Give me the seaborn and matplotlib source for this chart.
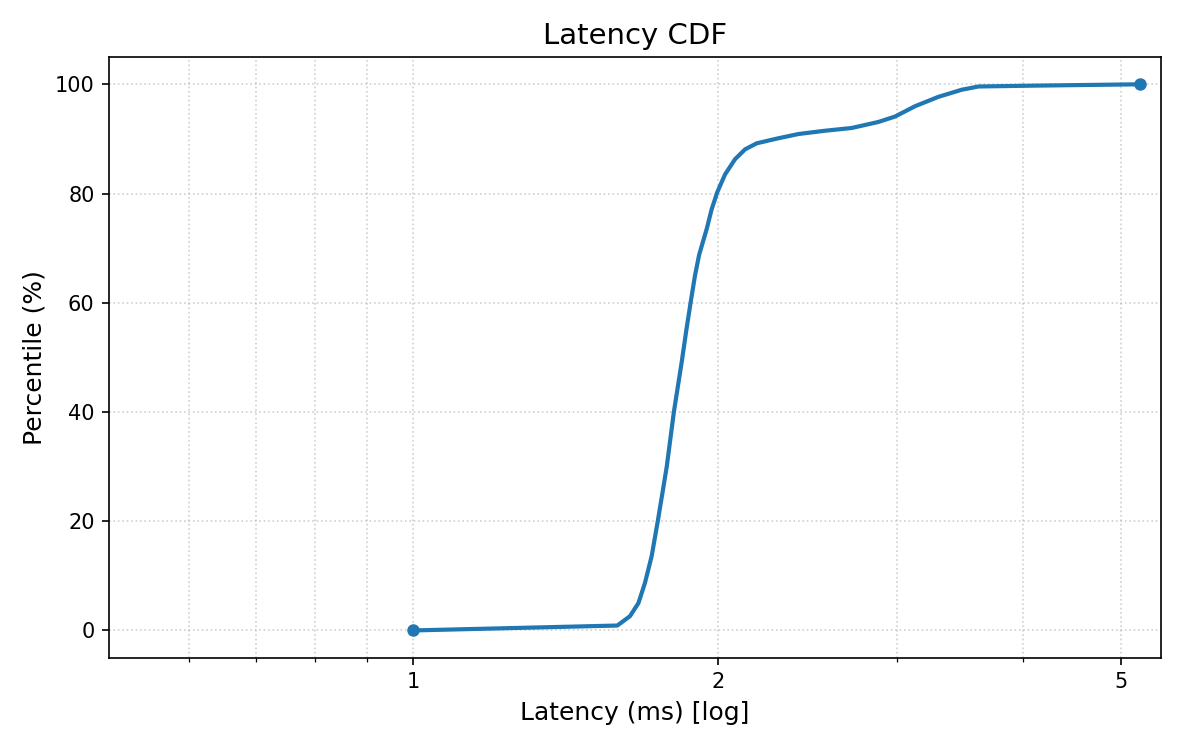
import pandas as pd
import matplotlib.pyplot as plt
import seaborn as sns
from matplotlib.ticker import NullFormatter

# Latenz-Perzentile
latency_ms = [1.0, 1.59, 1.636, 1.668, 1.693, 1.719, 1.743, 1.761, 1.779, 1.808,
              1.84, 1.86, 1.878, 1.897, 1.915, 1.948, 1.970, 1.996, 2.031, 2.078,
              2.126, 2.183, 2.29, 2.40, 2.55, 2.708, 2.877, 2.989, 3.129, 3.298,
              3.477, 3.613, 4.08, 5.21]
percentile = [0, 0.9, 2.6, 5.0, 8.7, 13.6, 20.0, 25.0, 30.0, 40.0,
              49.0, 55.0, 60.0, 65.0, 68.8, 73.5, 77.1, 80.3, 83.5, 86.3,
              88.1, 89.2, 90.1, 90.9, 91.5, 92.0, 93.1, 94.1, 96.0, 97.7,
              99.0, 99.6, 99.75, 100.0]
x_ticks = [1, 2, 5]
x_tick_labels = ["1", "2", "5"]

df = pd.DataFrame({"latency": latency_ms, "pct": percentile})

fig, ax = plt.subplots(figsize=(8, 5), dpi=150)

# Linie mit Markern nur am ersten und letzten Punkt
sns.lineplot(data=df, x="latency", y="pct", ax=ax, color="#1f77b4",
             linewidth=2, marker="o", markersize=6,
             markevery=[0, len(df) - 1], markeredgewidth=0)

ax.set_xscale("log")
ax.set_xlim(0.501, max(latency_ms) * 1.05)
ax.set_ylim(-5, 105)
ax.set_xticks(x_ticks)
ax.set_xticklabels(x_tick_labels)
ax.xaxis.set_minor_formatter(NullFormatter())

ax.grid(True, which="both", linestyle=":", color="#b0b0b0", alpha=0.6, linewidth=0.8)

ax.set_title("Latency CDF", fontsize=14)
ax.set_xlabel("Latency (ms) [log]", fontsize=12)
ax.set_ylabel("Percentile (%)", fontsize=12)

fig.subplots_adjust(left=0.091, right=0.9675, top=0.924, bottom=0.123)
plt.savefig("out.png")
